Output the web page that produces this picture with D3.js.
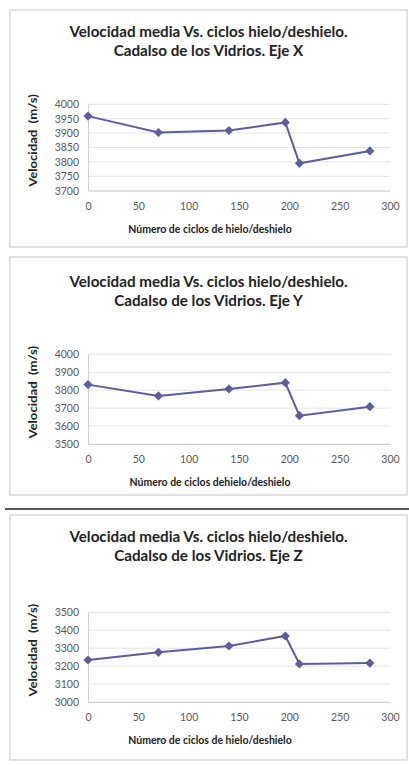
<!DOCTYPE html>
<html>
<head>
<meta charset="utf-8">
<script src="https://cdn.jsdelivr.net/npm/d3@7"></script>
<style>
  html, body { margin: 0; padding: 0; background: #fff; }
  svg { display: block; }
  text { font-family: Lato, "Open Sans", sans-serif; }
</style>
</head>
<body>
<div id="chart"></div>
<script>
// ciclos de hielo/deshielo (eje x comun)
const ciclos = [0, 70, 140, 196, 210, 280];
// velocidad media (m/s) por eje
const velEjeX = [3959, 3902, 3909, 3937, 3795, 3838];
const velEjeY = [3831, 3768, 3807, 3842, 3658, 3708];
const velEjeZ = [3234, 3277, 3312, 3368, 3212, 3217];

const xTicks = [0, 50, 100, 150, 200, 250, 300];
const yTicksX = [3700, 3750, 3800, 3850, 3900, 3950, 4000];
const yTicksY = [3500, 3600, 3700, 3800, 3900, 4000];
const yTicksZ = [3000, 3100, 3200, 3300, 3400, 3500];

const titulo1 = 'Velocidad media Vs. ciclos hielo/deshielo.';
const titulos2 = ['Cadalso de los Vidrios. Eje X', 'Cadalso de los Vidrios. Eje Y', 'Cadalso de los Vidrios. Eje Z'];
const xTitulos = ['Número de ciclos de hielo/deshielo', 'Número de ciclos dehielo/deshielo', 'Número de ciclos de hielo/deshielo'];
const yTitulo = 'Velocidad  (m/s)';

const W = 409, H = 765;
const svg = d3.select('#chart').append('svg')
  .attr('width', W)
  .attr('height', H);

// layout of each panel (box + plot area)
const panels = [
  {values: velEjeX, ticks: yTicksX, box: [10, 10, 407, 247], plot: [88, 104.3, 390, 190.7], t: [31.5, 50]},
  {values: velEjeY, ticks: yTicksY, box: [10, 257, 407, 495], plot: [88, 354.3, 390, 444], t: [281.5, 300]},
  {values: velEjeZ, ticks: yTicksZ, box: [10, 515, 407, 760], plot: [88, 612.3, 390, 702], t: [536.5, 555]}
];

const lineColor = '#5d5d9e';

panels.forEach((p, k) => {
  const g = svg.append('g').attr('class', 'panel');
  const [bx0, by0, bx1, by1] = p.box;
  const [px0, py0, px1, py1] = p.plot;

  // frame
  g.append('rect')
    .attr('x', bx0).attr('y', by0)
    .attr('width', bx1 - bx0).attr('height', by1 - by0)
    .attr('fill', '#fff')
    .attr('stroke', '#d9d9d9')
    .attr('stroke-width', 1.5);

  // titles
  const cx = (bx0 + bx1) / 2;
  [titulo1, titulos2[k]].forEach((s, i) => {
    g.append('text')
      .attr('transform', `translate(${cx},${p.t[i]}) scale(1,1.04)`)
      .attr('dy', '0.35em')
      .attr('text-anchor', 'middle')
      .attr('font-size', 15.2)
      .attr('font-weight', 'bold')
      .attr('fill', '#222')
      .text(s);
  });

  const x = d3.scaleLinear().domain([0, 300]).range([px0, px1]);
  const y = d3.scaleLinear().domain(d3.extent(p.ticks)).range([py1, py0]);

  // gridlines
  g.append('g')
    .selectAll('line')
    .data(p.ticks)
    .enter()
    .append('line')
    .attr('x1', px0).attr('x2', px1)
    .attr('y1', d => y(d)).attr('y2', d => y(d))
    .attr('stroke', '#e3e3e3')
    .attr('stroke-width', 1);

  // y axis
  const yAxis = g.append('g')
    .attr('transform', `translate(${px0},0)`)
    .call(d3.axisLeft(y).tickValues(p.ticks).tickFormat(d3.format('d')).tickSize(0).tickPadding(9));
  yAxis.select('.domain').attr('stroke', '#d0d0d0');
  yAxis.selectAll('text').attr('font-size', 10.5).attr('fill', '#595959')
    .style('font-family', 'Lato, sans-serif');

  // x axis
  const xAxis = g.append('g')
    .attr('transform', `translate(0,${py1})`)
    .call(d3.axisBottom(x).tickValues(xTicks).tickFormat(d3.format('d')).tickSize(0).tickPadding(12));
  xAxis.select('.domain').attr('stroke', '#d0d0d0');
  xAxis.selectAll('text').attr('font-size', 10.5).attr('fill', '#595959')
    .style('font-family', 'Lato, sans-serif');

  // axis titles
  g.append('text')
    .attr('transform', `translate(${(px0 + px1) / 2 - 29},${py1 + 38}) scale(1,1.15)`)
    .attr('dy', '0.35em')
    .attr('text-anchor', 'middle')
    .attr('font-size', 10.5)
    .attr('font-weight', 'bold')
    .attr('fill', '#222')
    .text(xTitulos[k]);

  g.append('text')
    .attr('transform', `translate(33,${(py0 + py1) / 2 - 7}) rotate(-90) scale(1.25,1)`)
    .attr('dy', '0.35em')
    .attr('text-anchor', 'middle')
    .attr('font-size', 10.5)
    .attr('font-weight', 'bold')
    .attr('fill', '#222')
    .style('white-space', 'pre')
    .text(yTitulo);

  // series
  const pts = ciclos.map((c, i) => [c, p.values[i]]);
  const line = d3.line().x(d => x(d[0])).y(d => y(d[1]));
  g.append('path')
    .datum(pts)
    .attr('d', line)
    .attr('fill', 'none')
    .attr('stroke', lineColor)
    .attr('stroke-width', 2);

  const diamond = d3.symbol().type(d3.symbolSquare).size(42);
  g.append('g')
    .selectAll('path')
    .data(pts)
    .enter()
    .append('path')
    .attr('d', diamond)
    .attr('transform', d => `translate(${x(d[0])},${y(d[1])}) rotate(45)`)
    .attr('fill', lineColor);
});

// separator line between the 2nd and 3rd chart
svg.append('line')
  .attr('x1', 5).attr('x2', W)
  .attr('y1', 509).attr('y2', 509)
  .attr('stroke', '#222')
  .attr('stroke-width', 1.5);
</script>
</body>
</html>
